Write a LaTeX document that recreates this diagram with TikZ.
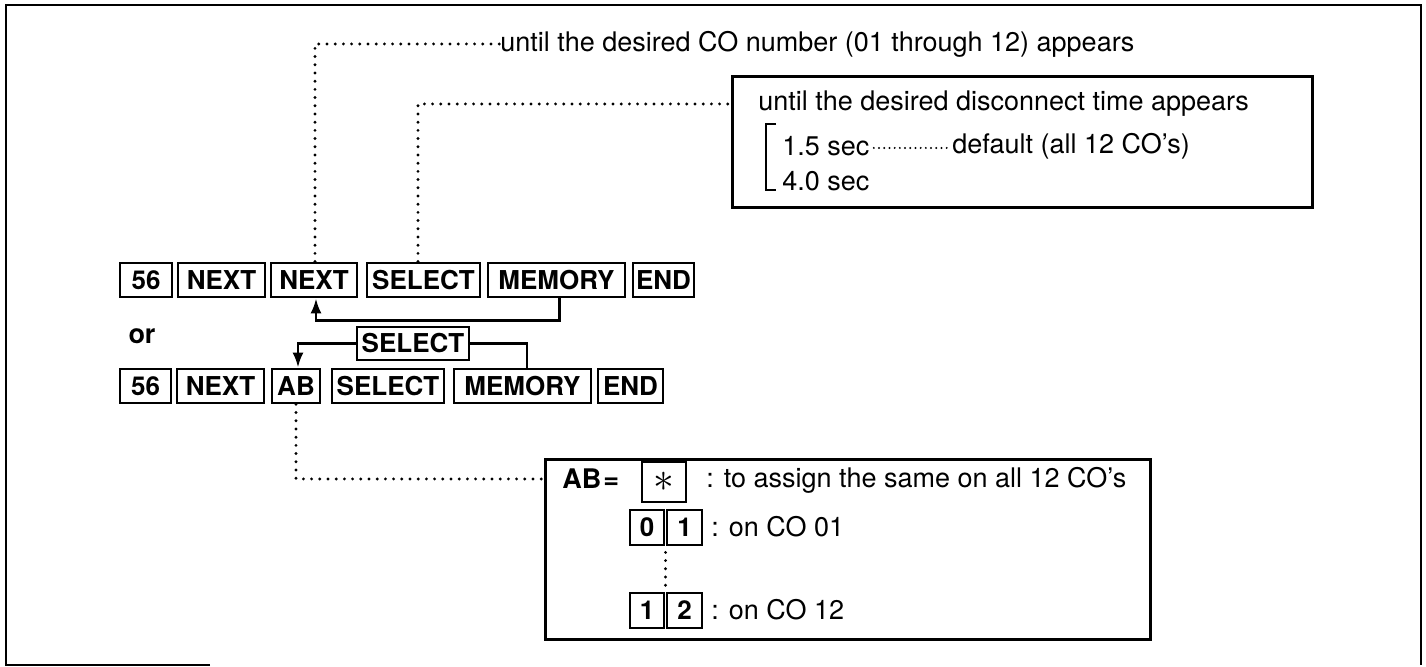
\documentclass[tikz,border=0pt]{standalone}
\usepackage{fontspec}
\setmainfont{TeX Gyre Heros}
\usetikzlibrary{arrows.meta,calc}
\begin{document}
\begin{tikzpicture}[x=0.5pt,y=-0.5pt,
  txt/.style={font=\fontsize{13.5pt}{16pt}\selectfont, inner sep=0pt, anchor=west},
  btxt/.style={font=\fontsize{13.5pt}{16pt}\selectfont\bfseries, inner sep=0pt},
  key/.style 2 args={draw, line width=1.4pt, minimum width=#1*0.5pt, minimum height=#2*0.5pt, inner sep=0pt, font=\fontsize{13pt}{15pt}\selectfont\bfseries},
  conn/.style={line width=1.3pt},
  dots/.style={line width=1.6pt, line cap=round, dash pattern=on 0pt off 4.1pt},
  fdots/.style={line width=1.1pt, line cap=round, dash pattern=on 0pt off 2.6pt},
  box/.style={draw, line width=1.5pt, inner sep=0pt},
  tip/.style={-{Latex[length=7.5pt,width=5.5pt]}}
]
\useasboundingbox (0,0) rectangle (1426,667);
% outer frame
\draw[line width=1.4pt] (210,665) -- (6,665) -- (6,5) -- (1421,5) -- (1421,665);

% row 1
\node[key={52}{34}]  (r1a) at (146,280) {56};
\node[key={87}{34}]  (r1b) at (221.5,280) {NEXT};
\node[key={86}{34}]  (r1c) at (314,280) {NEXT};
\node[key={113}{34}] (r1d) at (423.5,280) {SELECT};
\node[key={137}{34}] (r1e) at (556.5,280) {MEMORY};
\node[key={61}{34}]  (r1f) at (663.5,280) {END};

% or
\node[btxt] (or) at (142,336) {or};

% floating select
\node[key={112}{33}] (fs) at (413,343.5) {SELECT};

% row 2
\node[key={51}{34}]  (r2a) at (145.5,386) {56};
\node[key={87}{34}]  (r2b) at (220.5,386) {NEXT};
\node[key={48}{34}]  (r2c) at (296,386) {AB};
\node[key={112}{34}] (r2d) at (388,386) {SELECT};
\node[key={137}{34}] (r2e) at (522.5,386) {MEMORY};
\node[key={65}{34}]  (r2f) at (630.5,386) {END};

% connectors
\draw[conn,tip] ($(r1e.south)+(3,0)$) -- ++(0,22) -| ($(r1c.south)+(2,0)$);
\draw[conn,tip] (fs.west) -| ($(r2c.north)+(2,0)$);
\draw[conn] (fs.east) -| ($(r2e.north)+(4.5,0)$);

% top note
\node[txt] (t1) at (500,44) {until the desired CO number (01 through 12) appears};
\draw[dots] ($(r1c.north)+(1,0)$) |- (t1.west);

% disconnect box
\node[box, minimum width=580*0.5pt, minimum height=131*0.5pt] (dbox) at (1022,142.5) {};
\node[txt] (d1) at (758,104) {until the desired disconnect time appears};
\draw[dots] ($(r1d.north)+(-5.5,0)$) |- (dbox.west |- d1.west);
\draw[line width=1.3pt] (776,124) -- (766,124) -- (766,190) -- (776,190);
\node[txt] (d2) at (782,146) {1.5 sec};
\node[txt] (d3) at (952,146) {default (all 12 CO's)};
\draw[fdots] ($(d2.east)+(4,2)$) -- ($(d3.west)+(-3,2)$);
\node[txt] (d4) at (782,181) {4.0 sec};

% AB box
\node[box, minimum width=605*0.5pt, minimum height=180*0.5pt] (abox) at (847.5,550) {};
\node[btxt, anchor=west] (abeq) at (562,479) {AB\kern1pt=};
\draw[dots] (r2c.south) |- (abox.west |- abeq.west);
\node[key={44}{40}, font=\fontsize{22pt}{22pt}\selectfont] (star) at (664,482) {$\ast$};
\node[txt] (c1) at (706,480) {: to assign the same on all 12 CO's};
\node[key={34}{35}] (z0) at (647,527.5) {0};
\node[key={35}{35}] (z1) at (684.5,527.5) {1};
\node[txt] (c2) at (711,527) {: on CO 01};
\node[key={34}{35}] (w1) at (647,610.5) {1};
\node[key={35}{35}] (w2) at (684.5,610.5) {2};
\node[txt] (c3) at (711,610) {: on CO 12};
\draw[dots, shorten <=3pt, shorten >=3pt] ($(z0.south east)!0.5!(z1.south west)$) -- ($(w1.north east)!0.5!(w2.north west)$);
\end{tikzpicture}
\end{document}
